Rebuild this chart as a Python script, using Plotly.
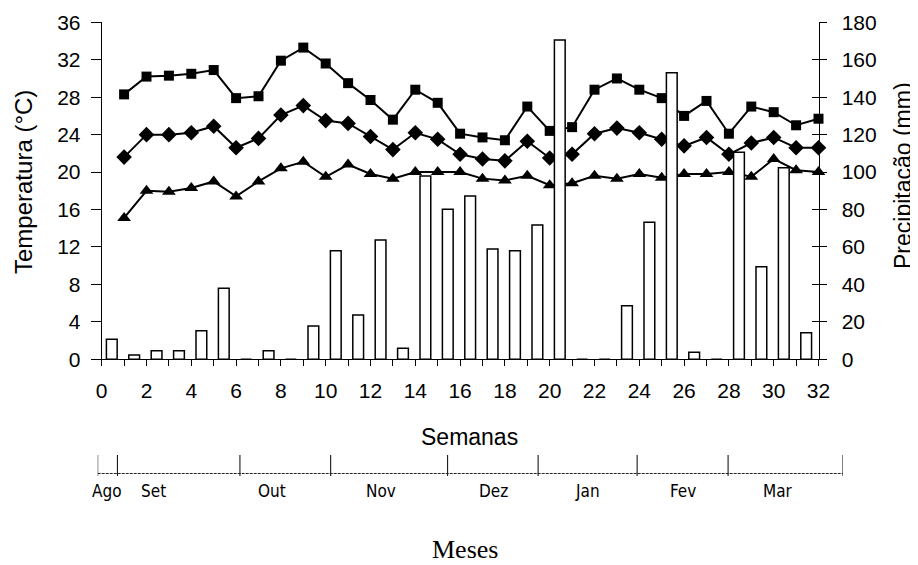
import plotly.graph_objects as go

# ---------------- data ----------------
weeks = list(range(1, 33))
t_max = [28.3, 30.2, 30.3, 30.5, 30.9, 27.9, 28.1, 31.9, 33.3, 31.6,
         29.5, 27.7, 25.6, 28.8, 27.4, 24.1, 23.7, 23.4, 27.0, 24.4,
         24.8, 28.8, 30.0, 28.8, 27.9, 26.0, 27.6, 24.1, 27.0, 26.4,
         25.0, 25.7]
t_mean = [21.6, 24.0, 24.0, 24.2, 24.9, 22.6, 23.6, 26.1, 27.1, 25.5,
          25.2, 23.8, 22.4, 24.2, 23.5, 21.9, 21.4, 21.2, 23.3, 21.5,
          21.9, 24.1, 24.7, 24.2, 23.5, 22.8, 23.7, 21.9, 23.1, 23.7,
          22.6, 22.6]
t_min = [15.1, 18.0, 17.9, 18.3, 19.0, 17.4, 19.0, 20.4, 21.1, 19.5,
         20.8, 19.8, 19.3, 20.0, 20.0, 20.0, 19.3, 19.1, 19.6, 18.6,
         18.8, 19.6, 19.3, 19.8, 19.4, 19.8, 19.8, 20.0, 19.5, 21.4,
         20.2, 20.0]
precip_weeks = list(range(0, 32))
precip = [10.7, 2.3, 4.6, 4.6, 15.3, 37.9, 0, 4.6, 0, 17.8,
          58.0, 23.7, 63.7, 5.9, 97.9, 80.1, 87.2, 58.9, 58.0, 71.7,
          170.5, 0, 0, 28.6, 73.2, 153.1, 3.7, 0, 110.6, 49.5,
          102.3, 14.2]
month_labels = ["Ago", "Set", "Out", "Nov", "Dez", "Jan", "Fev", "Mar"]
month_edges = [-0.18, 0.70, 6.17, 10.22, 15.44, 19.48, 23.90, 27.96, 33.09]
month_label_pos = [0.24, 2.29, 7.6, 12.47, 17.47, 21.67, 25.95, 30.19]

# ---------------- layout helpers ----------------
# the page body adds an 8 px offset, so page positions are converted back
W, H = 918, 565
OFF = 8
def px(x):
    return (x - OFF) / W
def py(y):
    return 1 - (y - OFF) / H

SANS = "Liberation Sans, Arial, sans-serif"
NARROW = "DejaVu Sans Condensed, Liberation Sans Narrow, Arial Narrow, sans-serif"
SERIF = "Liberation Serif, Times New Roman, serif"

fig = go.Figure()

line_style = dict(color="black", width=2)
fig.add_trace(go.Scatter(x=weeks, y=t_max, mode="lines+markers", line=line_style,
                         marker=dict(symbol="square", size=10, color="black"),
                         cliponaxis=False, showlegend=False))
fig.add_trace(go.Scatter(x=weeks, y=t_mean, mode="lines+markers", line=line_style,
                         marker=dict(symbol="diamond", size=12, color="black"),
                         cliponaxis=False, showlegend=False))
fig.add_trace(go.Scatter(x=weeks, y=t_min, mode="lines+markers", line=line_style,
                         marker=dict(symbol="triangle-up", size=12, color="black"),
                         cliponaxis=False, showlegend=False))

bar_x = [w + 0.45 for w in precip_weeks]
fig.add_trace(go.Bar(x=bar_x, y=precip, yaxis="y2", width=0.48,
                     marker=dict(color="white", line=dict(color="black", width=1.5)),
                     showlegend=False))
# helper trace so that the inner tick overlay axis is drawn
fig.add_trace(go.Scatter(x=bar_x, y=precip, yaxis="y4", mode="none",
                         showlegend=False, hoverinfo="skip"))

# month axis
mx, my = [], []
for e in month_edges:
    mx += [e, e, None]
    my += [0, 1, None]
fig.add_trace(go.Scatter(x=mx, y=my, xaxis="x3", yaxis="y3", mode="lines",
                         line=dict(color="black", width=1), showlegend=False,
                         cliponaxis=False, hoverinfo="skip"))
fig.add_trace(go.Scatter(x=[month_edges[0], month_edges[-1]], y=[0.12, 0.12],
                         xaxis="x3", yaxis="y3", mode="lines",
                         line=dict(color="#222", width=1, dash="3px,1px"),
                         showlegend=False, cliponaxis=False, hoverinfo="skip"))

annotations = []
for lab, pos in zip(month_labels, month_label_pos):
    annotations.append(dict(x=pos, y=py(491), xref="x3", yref="paper", text=lab,
                            showarrow=False, xanchor="center", yanchor="middle",
                            font=dict(family=NARROW, size=17, color="black")))
annotations += [
    dict(x=px(23), y=py(182), xref="paper", yref="paper", text="Temperatura (°C)",
         textangle=-90, showarrow=False, xanchor="center", yanchor="middle",
         font=dict(family=SANS, size=24, color="black")),
    dict(x=px(903), y=py(176), xref="paper", yref="paper", text="Precipitação (mm)",
         textangle=-90, showarrow=False, xanchor="center", yanchor="middle",
         font=dict(family=SANS, size=23, color="black")),
    dict(x=px(469), y=py(437), xref="paper", yref="paper", text="Semanas",
         showarrow=False, xanchor="center", yanchor="middle",
         font=dict(family=SANS, size=23, color="black")),
    dict(x=px(465), y=py(549), xref="paper", yref="paper", text="Meses",
         showarrow=False, xanchor="center", yanchor="middle",
         font=dict(family=SERIF, size=26, color="black")),
]

tickfont = dict(family=SANS, size=21, color="black")
fig.update_layout(
    width=W, height=H,
    margin=dict(l=0, r=0, t=0, b=0),
    paper_bgcolor="white", plot_bgcolor="white",
    showlegend=False,
    xaxis=dict(domain=[px(101.7), px(818.5)], range=[0, 32], anchor="y",
               tickmode="linear", tick0=0, dtick=2, ticks="outside", ticklen=6,
               tickcolor="black", tickwidth=1,
               minor=dict(dtick=1, ticks="outside", ticklen=6, tickcolor="black", tickwidth=1),
               showline=True, linecolor="black", linewidth=1,
               showgrid=False, zeroline=False, tickfont=tickfont, ticklabelstandoff=6,
               automargin=False),
    yaxis=dict(domain=[py(359.3), py(22.3)], range=[0, 36], anchor="x",
               tickmode="linear", tick0=0, dtick=4, ticks="outside", ticklen=10,
               tickcolor="black", showline=True, linecolor="black", linewidth=1,
               showgrid=False, zeroline=False, tickfont=tickfont,
               ticklabelstandoff=6, automargin=False),
    yaxis2=dict(range=[0, 180], overlaying="y", side="right", anchor="x",
                tickmode="linear", tick0=0, dtick=20, ticks="outside", ticklen=7,
                tickcolor="black", showline=True, linecolor="black", linewidth=1,
                showgrid=False, zeroline=False, tickfont=tickfont,
                ticklabelstandoff=11, automargin=False),
    yaxis4=dict(range=[0, 180], overlaying="y", side="right", anchor="x",
                tickmode="linear", tick0=0, dtick=20, ticks="inside", ticklen=7,
                tickcolor="black", showline=False, showticklabels=False,
                showgrid=False, zeroline=False, automargin=False),
    xaxis3=dict(domain=[px(97.7), px(843)], range=[month_edges[0], month_edges[-1]],
                anchor="y3", visible=False),
    yaxis3=dict(domain=[py(476), py(455)], range=[0, 1], anchor="x3", visible=False),
    annotations=annotations,
)

fig.write_html("out.html")
